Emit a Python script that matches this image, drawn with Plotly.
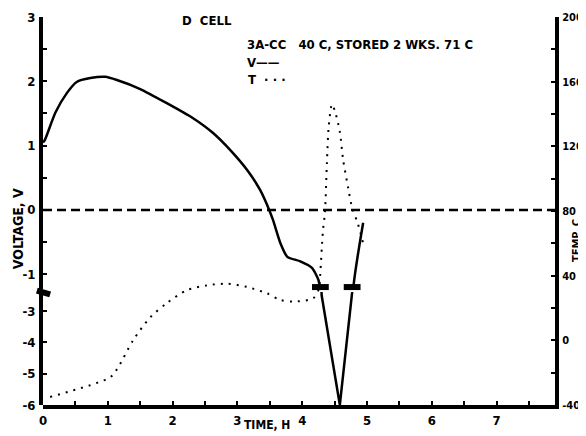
import plotly.graph_objects as go

# ---- data ----
time_v = [0.0, 0.03, 0.19, 0.37, 0.52, 0.73, 0.96, 1.14, 1.50, 1.91, 2.31, 2.62, 2.89, 3.15,
          3.35, 3.49, 3.55, 3.66, 3.77, 3.97, 4.15, 4.25, 4.27, 4.30, 4.58, 4.77, 4.79, 4.94]
voltage = [1.05, 1.09, 1.51, 1.82, 1.99, 2.05, 2.07, 2.02, 1.88, 1.66, 1.43, 1.20, 0.93, 0.62,
           0.31, 0.0, -0.16, -0.51, -0.73, -0.80, -0.90, -1.09, -1.2, -2.5, -6.0, -2.4, -1.2, -0.2]

time_t = [0.11, 1.03, 1.14, 1.39, 1.65, 1.91, 2.22, 2.53, 2.84, 3.15, 3.46, 3.66, 3.86, 4.17,
          4.25, 4.27, 4.32, 4.35, 4.38, 4.41, 4.46, 4.51, 4.58, 4.63, 4.71, 4.77, 4.86, 4.94]
temperature = [-35, -23, -18, 0, 14, 23, 31, 34, 35, 33, 29, 25, 24, 26,
               31, 37, 68, 79, 109, 133, 146, 141, 129, 112, 94, 82, 72, 60]

break_time = [4.28, 4.77]
break_volt = [-1.2, -1.2]

x_tickvals = [i * 0.5 for i in range(16)]
x_ticktext = [str(int(v)) if v == int(v) else "" for v in x_tickvals]

v_up_tickvals = [3, 2.5, 2, 1.5, 1, 0.5, 0, -0.5, -1]
v_up_ticktext = ["3", "", "2", "", "1", "", "0", "", "-1"]
v_lo_tickvals = [-3, -4, -5, -6]
v_lo_ticktext = ["-3", "-4", "-5", "-6"]

t_tickvals = list(range(-40, 201, 20))
t_ticktext = [str(v) if v % 40 == 0 else "" for v in t_tickvals]

FONT = "DejaVu Sans Condensed, DejaVu Sans, sans-serif"
tickfont = dict(family=FONT, size=13, color="black", weight="bold")
rtickfont = dict(family=FONT, size=11, color="black", weight="bold")

fig = go.Figure()

# Temperature (right axis, full height)
fig.add_trace(go.Scatter(x=time_t, y=temperature, yaxis="y", mode="lines",
                         line=dict(color="black", width=2, dash="2px,6px", shape="spline", smoothing=0.8),
                         showlegend=False))
# Voltage upper part
fig.add_trace(go.Scatter(x=time_v, y=voltage, yaxis="y2", mode="lines",
                         line=dict(color="black", width=2.5, shape="spline", smoothing=0.6),
                         showlegend=False))
# Voltage lower (compressed) part
fig.add_trace(go.Scatter(x=time_v, y=voltage, yaxis="y3", mode="lines",
                         line=dict(color="black", width=2.5),
                         showlegend=False))
# Break marks on curves
fig.add_trace(go.Scatter(x=break_time, y=break_volt, yaxis="y2", mode="markers", cliponaxis=False,
                         marker=dict(symbol="line-ew", size=12, line=dict(color="black", width=6)),
                         showlegend=False))

axis_common = dict(showgrid=False, zeroline=False, showline=True, linecolor="black", linewidth=4,
                   ticks="inside", ticklen=4, tickwidth=2, tickcolor="black",
                   automargin=False)

fig.update_layout(
    width=578, height=428,
    margin=dict(l=35, r=31, t=9, b=31, autoexpand=False),
    paper_bgcolor="white", plot_bgcolor="rgba(0,0,0,0)",
    xaxis=dict(range=[0, 7.9], tickvals=x_tickvals, ticktext=x_ticktext, anchor="y",
               ticklabelstandoff=0, tickfont=tickfont, **axis_common),
    yaxis=dict(domain=[0, 1], range=[-40, 200], side="right", anchor="x",
               tickvals=t_tickvals, ticktext=t_ticktext, ticklabelstandoff=1,
               tickfont=rtickfont, **axis_common),
    yaxis2=dict(domain=[0.299, 1], range=[-1.23, 3.0], side="left", anchor="x",
                tickvals=v_up_tickvals, ticktext=v_up_ticktext, ticklabelstandoff=1,
                tickfont=tickfont, **axis_common),
    yaxis3=dict(domain=[0, 0.291], range=[-6, -2.39], side="left", anchor="x",
                tickvals=v_lo_tickvals, ticktext=v_lo_ticktext, ticklabelstandoff=1,
                tickfont=tickfont, **axis_common),
)

# zero-voltage dashed reference line
fig.add_shape(type="line", xref="x domain", yref="y2", x0=0, x1=1, y0=0, y1=0,
              line=dict(color="black", width=2.5, dash="9px,5px"))
# axis break mark on left axis
fig.add_shape(type="line", xref="paper", yref="paper", x0=-0.012, x1=0.014, y0=0.295, y1=0.285,
              line=dict(color="black", width=6))

lab = dict(family=FONT, size=13, color="black", weight="bold")
ann = [
    dict(text="D  CELL", x=0.268, y=0.99),
    dict(text="3A-CC   40 C, STORED 2 WKS. 71 C", x=0.395, y=0.930),
    dict(text="V\u2014\u2014", x=0.395, y=0.884),
    dict(text="T  \u00b7 \u00b7 \u00b7", x=0.397, y=0.838),
]
for a in ann:
    fig.add_annotation(text=a["text"], x=a["x"], y=a["y"], xref="paper", yref="paper",
                       xanchor="left", yanchor="middle", showarrow=False, font=lab)
fig.add_annotation(text="VOLTAGE, V", x=-0.05, y=0.454, xref="paper", yref="paper", textangle=-90,
                   showarrow=False, xanchor="center", yanchor="middle",
                   font=dict(family=FONT, size=14, color="black", weight="bold"))
fig.add_annotation(text="TIME, H", x=0.437, y=-0.052, xref="paper", yref="paper",
                   showarrow=False, xanchor="center", yanchor="middle",
                   font=dict(family=FONT, size=12, color="black", weight="bold"))
fig.add_annotation(text="TEMP, C", x=1.041, y=0.425, xref="paper", yref="paper", textangle=-90,
                   showarrow=False, xanchor="center", yanchor="middle",
                   font=dict(family=FONT, size=11, color="black", weight="bold"))

fig.write_html("out.html")
